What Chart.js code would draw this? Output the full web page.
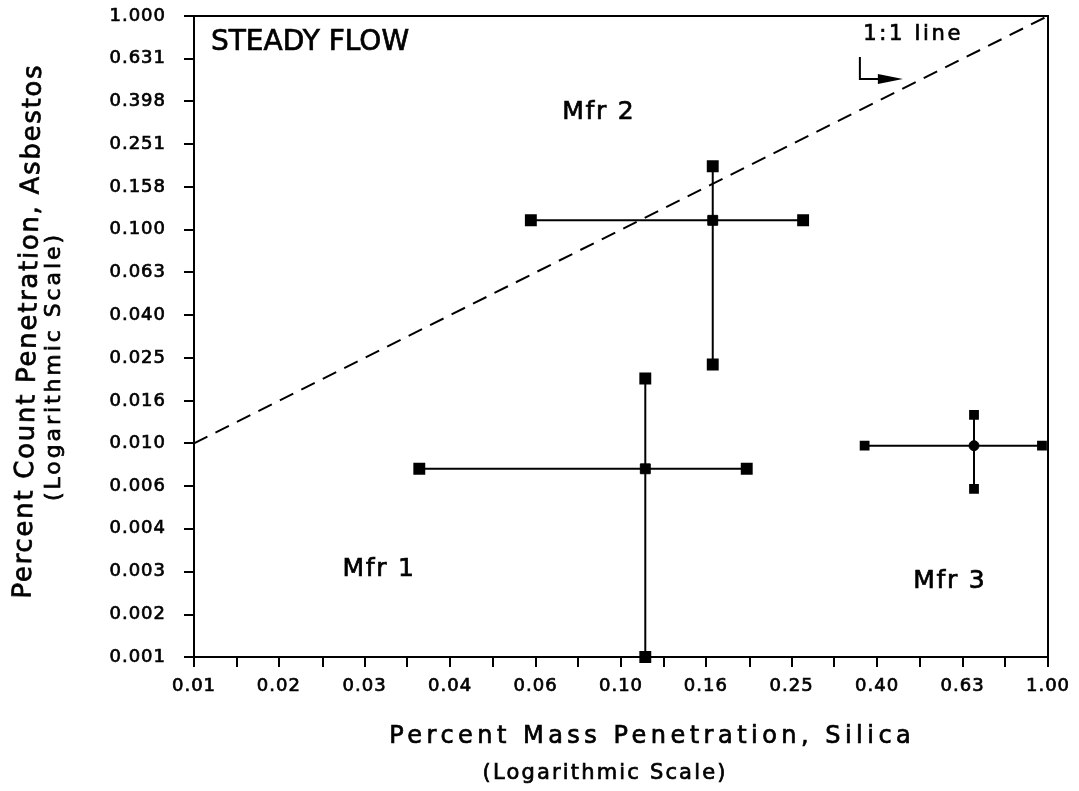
<!DOCTYPE html>
<html>
<head>
<meta charset="utf-8">
<script src="https://cdn.jsdelivr.net/npm/chart.js@4.4.0/dist/chart.umd.min.js"></script>
<style>
  html, body { margin: 0; padding: 0; background: #fff; }
  #wrap { width: 1079px; height: 791px; }
</style>
</head>
<body>
<div id="wrap"><canvas id="penetration"></canvas></div>
<script>
// values
const manufacturers = ['Mfr 1', 'Mfr 2', 'Mfr 3'];
const silicaMid  = [0.114, 0.164, 0.671];
const silicaLow  = [0.0337, 0.0615, 0.372];
const silicaHigh = [0.197, 0.267, 0.968];
const asbestosMid  = [0.0076, 0.1106, 0.00975];
const asbestosLow  = [0.0010, 0.0234, 0.00612];
const asbestosHigh = [0.0201, 0.198, 0.0136];
const oneToOne = [0.01, 1.0];

// ticks every 0.1 decade on x (labels every 0.2), every 0.2 decade on y
const xTickValues = [0.01, 0.0126, 0.0158, 0.02, 0.0251, 0.0316, 0.0398, 0.0501, 0.0631, 0.0794,
                     0.1, 0.126, 0.158, 0.2, 0.251, 0.316, 0.398, 0.501, 0.631, 0.794, 1.0];
const xTickLabels = ['0.01', '0.02', '0.03', '0.04', '0.06', '0.10', '0.16', '0.25', '0.40', '0.63', '1.00'];
const yTickValues = [0.001, 0.00158, 0.00251, 0.00398, 0.00631, 0.01, 0.0158, 0.0251, 0.0398, 0.0631,
                     0.1, 0.158, 0.251, 0.398, 0.631, 1.0];
const yTickLabels = ['0.001', '0.002', '0.003', '0.004', '0.006', '0.010', '0.016', '0.025', '0.040', '0.063',
                     '0.100', '0.158', '0.251', '0.398', '0.631', '1.000'];

const FONT = '"DejaVu Sans", sans-serif';
const INK = 0.7; // scanned text looks a bit heavier than regular weight

const datasets = [];
manufacturers.forEach(function(name, i) {
  const r = i === 2 ? 5.5 : 7;
  datasets.push({
    label: name + ' silica',
    data: [{x: silicaLow[i], y: asbestosMid[i]}, {x: silicaHigh[i], y: asbestosMid[i]}],
    showLine: true, borderColor: '#000', borderWidth: 2,
    pointStyle: 'rect', pointRadius: r, backgroundColor: '#000', clip: false
  });
  datasets.push({
    label: name + ' asbestos',
    data: [{x: silicaMid[i], y: asbestosLow[i]}, {x: silicaMid[i], y: asbestosHigh[i]}],
    showLine: true, borderColor: '#000', borderWidth: 2,
    pointStyle: 'rect', pointRadius: r, backgroundColor: '#000', clip: false
  });
  datasets.push({
    label: name,
    data: [{x: silicaMid[i], y: asbestosMid[i]}],
    pointStyle: i === 2 ? 'circle' : 'rect', pointRadius: i === 2 ? 5 : 7,
    backgroundColor: '#000', borderColor: '#000', clip: false
  });
});
datasets.push({
  label: '1:1 line',
  data: [{x: oneToOne[0], y: oneToOne[0]}, {x: oneToOne[1], y: oneToOne[1]}],
  showLine: true, borderColor: '#000', borderWidth: 2, borderDash: [15, 9],
  pointRadius: 0
});

// where the free text sits, in data units
const labelAnchors = {
  'Mfr 1': [0.027, 0.00257],
  'Mfr 2': [0.0883, 0.355],
  'Mfr 3': [0.586, 0.00226]
};

function spacedText(ctx, text, cx, cy, width) {
  ctx.letterSpacing = '0px';
  const w = ctx.measureText(text).width;
  const sp = Math.max(0, (width - w) / text.length);
  ctx.letterSpacing = sp + 'px';
  ctx.fillText(text, cx + sp / 2, cy);
  ctx.strokeText(text, cx + sp / 2, cy);
  ctx.letterSpacing = '0px';
}

const annotate = {
  id: 'annotate',
  beforeDraw(chart) {
    chart.ctx.letterSpacing = '1px';
  },
  afterDraw(chart) {
    const ctx = chart.ctx;
    const a = chart.chartArea;
    const xs = chart.scales.x, ys = chart.scales.y;
    ctx.save();
    ctx.letterSpacing = '0px';
    ctx.strokeStyle = '#000';
    ctx.lineWidth = 2;
    ctx.strokeRect(a.left, a.top, a.right - a.left, a.bottom - a.top);

    ctx.fillStyle = '#000';
    ctx.textBaseline = 'middle';
    ctx.lineWidth = INK;

    ctx.textAlign = 'center';
    ctx.font = '28px ' + FONT;
    spacedText(ctx, 'STEADY FLOW', a.left + 116, a.top + 27, 196);

    ctx.font = '25px ' + FONT;
    manufacturers.forEach(function(name) {
      const p = labelAnchors[name];
      spacedText(ctx, name, xs.getPixelForValue(p[0]), ys.getPixelForValue(p[1]), 73);
    });

    // 1:1 line note with its little arrow
    const tx = xs.getPixelForValue(0.48), ty = ys.getPixelForValue(0.823);
    ctx.font = '21px ' + FONT;
    spacedText(ctx, '1:1 line', tx, ty, 100);
    ctx.lineWidth = 2;
    ctx.beginPath();
    ctx.moveTo(tx - 52, ty + 23);
    ctx.lineTo(tx - 52, ty + 45);
    ctx.lineTo(tx - 30, ty + 45);
    ctx.stroke();
    ctx.beginPath();
    ctx.moveTo(tx - 34, ty + 40);
    ctx.lineTo(tx - 9, ty + 45);
    ctx.lineTo(tx - 34, ty + 50);
    ctx.closePath();
    ctx.fill();

    // axis titles
    ctx.lineWidth = INK;
    ctx.font = '24px ' + FONT;
    spacedText(ctx, 'Percent Mass Penetration, Silica', 650, a.bottom + 80, 526);
    ctx.font = '21px ' + FONT;
    spacedText(ctx, '(Logarithmic Scale)', 604, a.bottom + 117, 245);

    ctx.save();
    ctx.translate(29, 332);
    ctx.rotate(-Math.PI / 2 + 0.02);
    ctx.font = '26px ' + FONT;
    spacedText(ctx, 'Percent Count Penetration, Asbestos', 0, 0, 535);
    ctx.restore();
    ctx.save();
    ctx.translate(54, 368);
    ctx.rotate(-Math.PI / 2);
    ctx.font = '22px ' + FONT;
    spacedText(ctx, '(Logarithmic Scale)', 0, 0, 269);
    ctx.restore();

    ctx.restore();
  }
};

new Chart(document.getElementById('penetration'), {
  type: 'scatter',
  data: { datasets: datasets },
  options: {
    responsive: true,
    maintainAspectRatio: false,
    animation: false,
    layout: { padding: { left: 0, top: 16, right: 31, bottom: 0 } },
    plugins: { legend: { display: false }, tooltip: { enabled: false } },
    scales: {
      x: {
        type: 'logarithmic',
        min: 0.01, max: 1,
        afterBuildTicks: function(scale) {
          scale.ticks = xTickValues.map(v => ({ value: v }));
        },
        afterFit: function(scale) {
          scale.height = 134;
          scale.paddingLeft = 0;
          scale.paddingRight = 0;
        },
        grid: { drawOnChartArea: false, drawTicks: true, tickLength: 10, color: '#000', lineWidth: 2 },
        border: { display: true, color: '#000', width: 2 },
        ticks: {
          autoSkip: false, maxRotation: 0, padding: 9, color: '#000',
          textStrokeColor: '#000', textStrokeWidth: INK,
          font: { family: FONT, size: 18 },
          callback: function(value, index) {
            return index % 2 === 0 ? xTickLabels[index / 2] : '';
          }
        }
      },
      y: {
        type: 'logarithmic',
        min: 0.001, max: 1,
        afterBuildTicks: function(scale) {
          scale.ticks = yTickValues.map(v => ({ value: v }));
        },
        afterFit: function(scale) {
          scale.width = 194;
          scale.paddingTop = 0;
          scale.paddingBottom = 0;
        },
        grid: { drawOnChartArea: false, drawTicks: true, tickLength: 10, color: '#000', lineWidth: 2 },
        border: { display: true, color: '#000', width: 2 },
        ticks: {
          autoSkip: false, padding: 18, color: '#000',
          textStrokeColor: '#000', textStrokeWidth: INK,
          font: { family: FONT, size: 18 },
          callback: function(value, index) { return yTickLabels[index]; }
        }
      }
    }
  },
  plugins: [annotate]
});
</script>
</body>
</html>
